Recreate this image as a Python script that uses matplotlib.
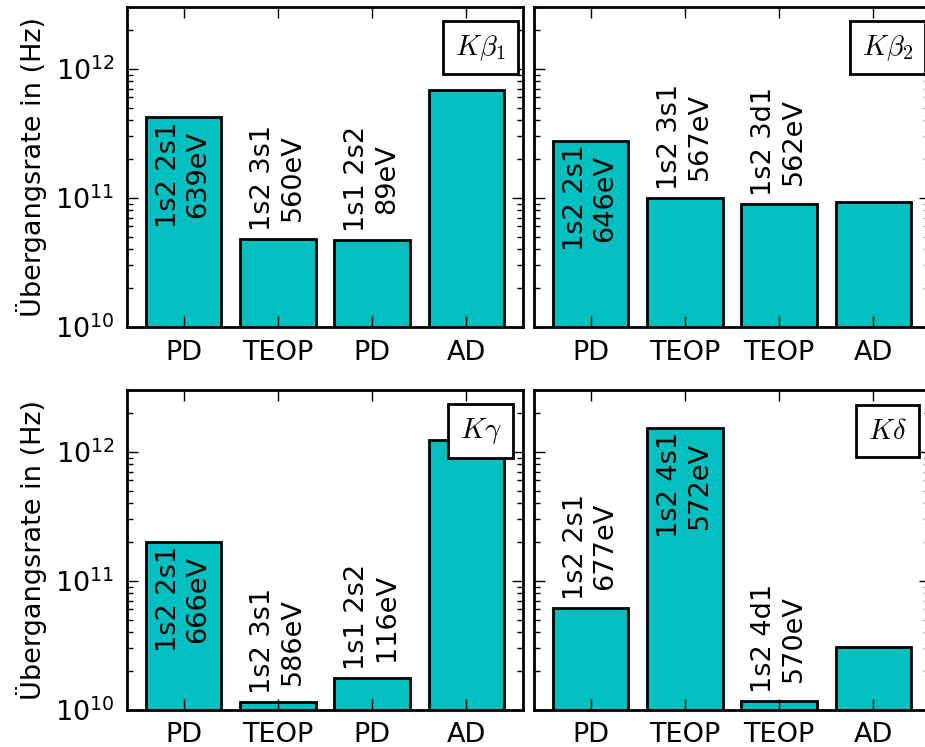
import numpy as np
import matplotlib
matplotlib.use('Agg')
import matplotlib.pyplot as plt

plt.rcParams['mathtext.fontset'] = 'cm'
plt.rcParams['font.family'] = ['DejaVu Sans']

# data (Hz)
panel_names = [r'$K\beta_1$', r'$K\beta_2$', r'$K\gamma$', r'$K\delta$']

kb1_procs = ['PD', 'TEOP', 'PD', 'AD']
kb1_rates = [4.2e11, 4.8e10, 4.75e10, 6.8e11]
kb1_notes = ['1s2 2s1\n639eV', '1s2 3s1\n560eV', '1s1 2s2\n89eV', '']

kb2_procs = ['PD', 'TEOP', 'TEOP', 'AD']
kb2_rates = [2.75e11, 1.0e11, 9.0e10, 9.3e10]
kb2_notes = ['1s2 2s1\n646eV', '1s2 3s1\n567eV', '1s2 3d1\n562eV', '']

kg_procs = ['PD', 'TEOP', 'PD', 'AD']
kg_rates = [2.0e11, 1.15e10, 1.77e10, 1.22e12]
kg_notes = ['1s2 2s1\n666eV', '1s2 3s1\n586eV', '1s1 2s2\n116eV', '']

kd_procs = ['PD', 'TEOP', 'TEOP', 'AD']
kd_rates = [6.2e10, 1.52e12, 1.17e10, 3.1e10]
kd_notes = ['1s2 2s1\n677eV', '1s2 4s1\n572eV', '1s2 4d1\n570eV', '']

panels = [(kb1_procs, kb1_rates, kb1_notes),
          (kb2_procs, kb2_rates, kb2_notes),
          (kg_procs, kg_rates, kg_notes),
          (kd_procs, kd_rates, kd_notes)]

W, H = 925, 747
fig = plt.figure(figsize=(W / 100, H / 100), dpi=100)

# axes boxes in pixels: left, top (width/height shared)
aw, ah = 396, 320
boxes = [(127, 7), (534, 7), (127, 390), (534, 390)]

fs = 19.5
for i, (procs, rates, notes) in enumerate(panels):
    left, top = boxes[i]
    ax = fig.add_axes([left / W, 1 - (top + ah) / H, aw / W, ah / H])
    x = np.arange(len(procs))
    ax.bar(x, rates, width=0.8, color='c', edgecolor='k', linewidth=2)
    ax.set_yscale('log')
    ax.set_ylim(1e10, 3e12)
    ax.set_xlim(-0.6, 3.6)
    ax.set_xticks(x)
    ax.set_xticklabels(procs)

    # transition labels: inside tall bars, above short ones
    for xi, h, note in zip(x, rates, notes):
        if not note:
            continue
        if h > 1.5e11:
            ax.text(xi, h * 0.93, note, rotation=90, ha='center', va='top',
                    fontsize=fs, linespacing=1.2)
        else:
            ax.text(xi, h * 1.15, note, rotation=90, ha='center', va='bottom',
                    fontsize=fs, linespacing=1.2)

    ax.text(0.893, 0.873, panel_names[i], transform=ax.transAxes,
            ha='center', va='center', fontsize=fs + 1,
            bbox=dict(boxstyle='square,pad=0.42', facecolor='white',
                      edgecolor='k', linewidth=2))

    ax.tick_params(which='both', direction='in', top=True, right=True,
                   labelsize=fs, pad=9)
    ax.tick_params(which='major', length=8, width=1)
    ax.tick_params(which='minor', length=4, width=1)
    for s in ax.spines.values():
        s.set_linewidth(2)
    if i % 2 == 0:
        ax.set_ylabel('Übergangsrate in (Hz)', fontsize=fs, labelpad=6)
    else:
        ax.tick_params(labelleft=False)

plt.savefig('out.png', dpi=100)
